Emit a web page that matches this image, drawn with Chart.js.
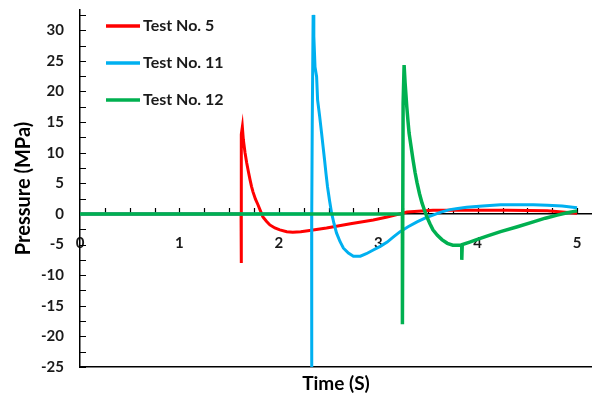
<!DOCTYPE html>
<html>
<head>
<meta charset="utf-8">
<script src="https://cdn.jsdelivr.net/npm/chart.js@4.4.1/dist/chart.umd.min.js"></script>
<style>
  html, body { margin: 0; padding: 0; background: #fff; }
  #wrap { width: 592px; height: 397px; }
</style>
</head>
<body>
<div id="wrap"><canvas id="chPresion"></canvas></div>
<script>
// Valores: tiempo (s) y presion (MPa)
const X_TICKS = [0, 1, 2, 3, 4, 5];
const Y_TICKS = [-25, -20, -15, -10, -5, 0, 5, 10, 15, 20, 25, 30];

const TEST5_T = [0, 1.62, 1.62, 1.625, 1.633, 1.643, 1.66, 1.677, 1.695, 1.71, 1.725, 1.74, 1.765, 1.79, 1.815, 1.84, 1.875, 1.91, 1.96, 2.01, 2.08, 2.14, 2.22, 2.31, 2.48, 2.72, 2.95, 3.09, 3.29, 3.55, 3.89, 4.3, 4.7, 5.0];
const TEST5_P = [0, 0, -8, 13, 14.2, 12.1, 10, 8.3, 6.8, 5.6, 4.5, 3.6, 2.4, 1.5, 0.5, -0.5, -1.2, -1.8, -2.3, -2.6, -2.9, -3.0, -2.9, -2.7, -2.3, -1.6, -1.0, -0.5, 0.3, 0.6, 0.6, 0.6, 0.5, 0.1];

const TEST11_T = [0, 2.33, 2.33, 2.332, 2.336, 2.345, 2.352, 2.364, 2.38, 2.39, 2.41, 2.43, 2.445, 2.46, 2.475, 2.49, 2.51, 2.53, 2.555, 2.58, 2.615, 2.65, 2.70, 2.75, 2.82, 2.88, 2.95, 3.02, 3.09, 3.15, 3.22, 3.30, 3.39, 3.47, 3.55, 3.63, 3.72, 3.80, 3.89, 4.05, 4.23, 4.40, 4.56, 4.70, 4.85, 5.0];
const TEST11_P = [0, 0, -27, 0, 14.5, 32.5, 29, 24, 22.4, 18.6, 16, 13.2, 11, 8.8, 6.5, 4.4, 2.2, 0.2, -1.6, -3.1, -4.5, -5.6, -6.4, -6.9, -6.9, -6.5, -5.9, -5.3, -4.6, -3.8, -2.9, -2.1, -1.3, -0.7, -0.2, 0.3, 0.7, 0.9, 1.1, 1.3, 1.5, 1.5, 1.5, 1.4, 1.3, 1.0];

const TEST12_T = [0, 3.243, 3.243, 3.25, 3.26, 3.27, 3.287, 3.30, 3.31, 3.33, 3.35, 3.37, 3.39, 3.415, 3.44, 3.465, 3.49, 3.52, 3.55, 3.595, 3.64, 3.695, 3.75, 3.84, 3.84, 3.845, 3.92, 3.99, 4.10, 4.23, 4.40, 4.56, 4.68, 4.80, 4.90, 5.0];
const TEST12_P = [0, 0, -18, 18, 24.3, 21.4, 17.5, 15, 13.2, 11, 8.8, 6.8, 5.1, 3.3, 1.8, 0.6, -0.5, -1.6, -2.6, -3.5, -4.2, -4.8, -5.1, -5.1, -7.5, -5.0, -4.6, -4.2, -3.6, -2.9, -2.1, -1.3, -0.7, -0.2, 0.2, 0.5];

const FUENTE = "Lato, 'Open Sans', sans-serif";

/** Une los arreglos de tiempo y presion en puntos {x, y}. */
function puntos(t, p) {
  return t.map((v, i) => ({ x: v, y: p[i] }));
}

/** Quita el relleno que Chart.js reserva para las etiquetas extremas. */
function sinRelleno(s) {
  s.paddingLeft = 0;
  s.paddingRight = 0;
  s.paddingTop = 0;
  s.paddingBottom = 0;
}

/** Marcas cortas de los ejes (Excel las dibuja hacia dentro del area). */
const marcasEjes = {
  id: "marcasEjes",
  beforeDatasetsDraw(chart) {
    const { ctx, chartArea, scales } = chart;
    const x = scales.x, y = scales.y;
    const y0 = y.getPixelForValue(0);
    ctx.save();
    ctx.strokeStyle = "#000";
    ctx.lineWidth = 1.2;
    ctx.beginPath();
    for (let v = -25; v <= 32.5; v += 2.5) {
      const py = Math.round(y.getPixelForValue(v)) + 0.5;
      ctx.moveTo(chartArea.left, py);
      ctx.lineTo(chartArea.left + 6, py);
    }
    for (let v = 0.25; v <= 5.1; v += 0.25) {
      const px = Math.round(x.getPixelForValue(v)) + 0.5;
      ctx.moveTo(px, y0);
      ctx.lineTo(px, y0 - 6);
    }
    ctx.stroke();
    ctx.restore();
  },
};

/** Leyenda dentro del area de trazado, arriba a la izquierda. */
const leyendaInterna = {
  id: "leyendaInterna",
  afterDraw(chart) {
    const ctx = chart.ctx;
    ctx.save();
    ctx.font = "bold 16px " + FUENTE;
    ctx.textBaseline = "middle";
    chart.data.datasets.forEach((ds, i) => {
      const yy = 26 + i * 37;
      ctx.strokeStyle = ds.borderColor;
      ctx.lineWidth = 3.5;
      ctx.beginPath();
      ctx.moveTo(106, yy);
      ctx.lineTo(140, yy);
      ctx.stroke();
      ctx.fillStyle = "#1a1a1a";
      ctx.fillText(ds.label, 143, yy);
    });
    ctx.restore();
  },
};

new Chart(document.getElementById("chPresion"), {
  type: "line",
  data: {
    datasets: [
      { label: "Test No. 5", data: puntos(TEST5_T, TEST5_P), borderColor: "#ff0000", borderWidth: 3, order: 2 },
      { label: "Test No. 11", data: puntos(TEST11_T, TEST11_P), borderColor: "#00b0f0", borderWidth: 3, order: 1 },
      { label: "Test No. 12", data: puntos(TEST12_T, TEST12_P), borderColor: "#00b050", borderWidth: 3.5, order: 0 },
    ],
  },
  options: {
    responsive: true,
    maintainAspectRatio: false,
    animation: false,
    devicePixelRatio: 1,
    layout: { padding: { top: 10, right: 0, left: 0, bottom: 0 } },
    elements: { point: { radius: 0 }, line: { tension: 0 } },
    plugins: { legend: { display: false }, tooltip: { enabled: false } },
    scales: {
      x: {
        type: "linear",
        position: { y: 0 },
        min: 0,
        max: 5.15,
        afterBuildTicks: s => { s.ticks = X_TICKS.map(v => ({ value: v })); },
        afterFit: sinRelleno,
        grid: { display: true, drawOnChartArea: false, drawTicks: false },
        border: { display: true, color: "#000", width: 1.5 },
        ticks: { padding: 20, color: "#1a1a1a", font: { family: FUENTE, size: 15, weight: "bold" } },
      },
      xb: {
        type: "linear",
        position: "bottom",
        min: 0,
        max: 5.15,
        afterFit: s => { sinRelleno(s); s.height = 30; },
        grid: { display: true, drawOnChartArea: false, drawTicks: false },
        border: { display: true, color: "#000", width: 1.5 },
        ticks: { display: false },
        title: { display: true, text: "Time (S)", color: "#000", padding: { top: 0, bottom: 2 }, font: { family: FUENTE, size: 19, weight: "bold" } },
      },
      y: {
        type: "linear",
        position: "left",
        min: -25,
        max: 33.3,
        afterBuildTicks: s => { s.ticks = Y_TICKS.map(v => ({ value: v })); },
        afterFit: s => { sinRelleno(s); s.width = 80; },
        grid: { display: true, drawOnChartArea: false, drawTicks: false },
        border: { display: true, color: "#000", width: 1.5 },
        ticks: { padding: 16, color: "#1a1a1a", font: { family: FUENTE, size: 15, weight: "bold" } },
        title: { display: true, text: "Pressure (MPa)", color: "#000", padding: { top: 12, bottom: 0 }, font: { family: FUENTE, size: 20, weight: "bold" } },
      },
    },
  },
  plugins: [marcasEjes, leyendaInterna],
});
</script>
</body>
</html>
